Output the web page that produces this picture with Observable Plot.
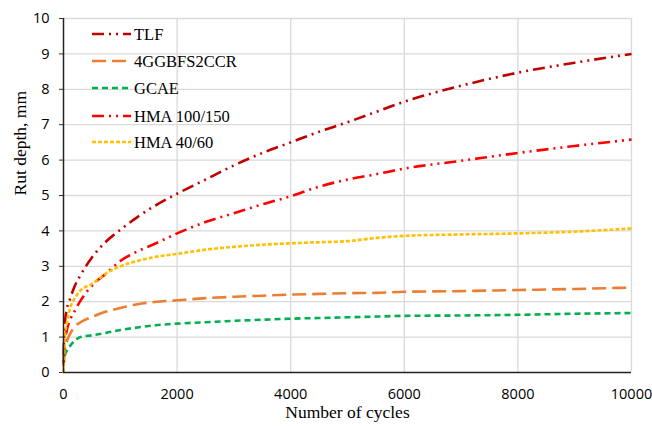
<!DOCTYPE html>
<html><head><meta charset="utf-8">
<script src="https://cdn.jsdelivr.net/npm/d3@7"></script>
<script src="https://cdn.jsdelivr.net/npm/@observablehq/plot@0.6"></script>
<style>
body{margin:0;background:#fff}
#chart{position:relative;width:652px;height:426px}
#legend{position:absolute;left:0;top:0;pointer-events:none}
</style>
</head><body><div id="chart"></div>
<script>
const cycles = [0, 20, 60, 120, 200, 300, 500, 750, 1000, 1300, 1600, 2000, 2500, 3000, 3500, 4000, 4500, 5000, 5500, 6000, 7000, 8000, 9000, 10000];
const tlf     = [0.5, 1.3, 1.8, 2.1, 2.45, 2.75, 3.25, 3.7, 4.03, 4.39, 4.7, 5.05, 5.45, 5.85, 6.2, 6.5, 6.8, 7.07, 7.36, 7.65, 8.1, 8.47, 8.75, 9.0];
const ggbfs   = [0.3, 0.6, 0.88, 1.1, 1.3, 1.42, 1.57, 1.72, 1.82, 1.93, 1.99, 2.04, 2.1, 2.14, 2.17, 2.2, 2.22, 2.24, 2.25, 2.28, 2.3, 2.33, 2.36, 2.4];
const gcae    = [0.2, 0.45, 0.62, 0.76, 0.9, 1.0, 1.05, 1.12, 1.2, 1.27, 1.33, 1.38, 1.42, 1.46, 1.49, 1.52, 1.54, 1.56, 1.58, 1.6, 1.61, 1.63, 1.66, 1.68];
const hma100  = [0.2, 0.8, 1.2, 1.5, 1.75, 2.03, 2.45, 2.8, 3.15, 3.42, 3.63, 3.93, 4.25, 4.5, 4.75, 4.98, 5.25, 5.45, 5.6, 5.76, 5.98, 6.2, 6.4, 6.58];
const hma40   = [0, 0.9, 1.4, 1.84, 2.1, 2.32, 2.5, 2.8, 3.0, 3.15, 3.26, 3.35, 3.47, 3.55, 3.61, 3.65, 3.68, 3.71, 3.8, 3.86, 3.9, 3.93, 3.98, 4.07];

const seriesNames  = ["TLF", "4GGBFS2CCR", "GCAE", "HMA 100/150", "HMA 40/60"];
const seriesValues = [tlf, ggbfs, gcae, hma100, hma40];
const seriesColors = ["#C00000", "#ED7D31", "#00B050", "#FF0000", "#FFC000"];
const seriesDash   = ["12,5,2,5,2,5", "14,6", "6,4", "12,5,2,5,2,5", "4,2"];
const xTicks = [0, 2000, 4000, 6000, 8000, 10000];
const yTicks = [0, 1, 2, 3, 4, 5, 6, 7, 8, 9, 10];

const rows = seriesNames.map((name, i) => cycles.map((c, j) => ({cycles: c, depth: seriesValues[i][j], series: name})));

const tickFont = "Open Sans, Noto Sans, sans-serif";
const serif = "Liberation Serif, Times New Roman, serif";

const plot = Plot.plot({
  width: 652, height: 426,
  marginLeft: 63, marginRight: 21, marginTop: 18, marginBottom: 54,
  style: {background: "#fff", color: "#000"},
  x: {domain: [0, 10000]},
  y: {domain: [0, 10]},
  marks: [
    Plot.gridX(xTicks.slice(1), {stroke: "#d9d9d9", strokeOpacity: 1, strokeWidth: 1.3}),
    Plot.gridY(yTicks.slice(1), {stroke: "#d9d9d9", strokeOpacity: 1, strokeWidth: 1.3}),
    Plot.axisY(yTicks, {tickSize: 4, tickPadding: 10, fontSize: 14.5, fontFamily: tickFont, label: null, stroke: "#333", tickFormat: "d"}),
    Plot.axisX(xTicks, {tickSize: 0, tickPadding: 16, fontSize: 14.5, fontFamily: tickFont, label: null, tickFormat: "d"}),
    ...rows.map((r, i) => Plot.line(r, {
      x: "cycles", y: "depth", stroke: seriesColors[i], strokeWidth: 2.6,
      strokeDasharray: seriesDash[i], curve: "monotone-x", strokeLinecap: "butt"
    })),
    Plot.ruleY([0], {stroke: "#222", strokeWidth: 1.5}),
    Plot.ruleX([0], {stroke: "#222", strokeWidth: 1.5}),
    Plot.text(["Rut depth, mm"], {frameAnchor: "left", rotate: -90, dx: -43, fontFamily: serif, fontSize: 17.5}),
    Plot.text(["Number of cycles"], {frameAnchor: "bottom", dy: 45, fontFamily: serif, fontSize: 17.5})
  ]
});

const chart = document.getElementById("chart");
chart.appendChild(plot);

// legend overlay
const legend = d3.select(chart).append("svg").attr("id", "legend").attr("width", 652).attr("height", 426);
const rowY = [34, 61, 88, 116, 142];
seriesNames.forEach((name, i) => {
  const g = legend.append("g").attr("transform", `translate(0,${rowY[i]})`);
  g.append("line").attr("x1", 92).attr("x2", 131).attr("y1", 0).attr("y2", 0)
    .attr("stroke", seriesColors[i]).attr("stroke-width", 2.6).attr("stroke-dasharray", seriesDash[i]);
  g.append("text").attr("x", 134).attr("y", 0).attr("dy", "0.35em")
    .attr("font-family", serif).attr("font-size", 16.5).text(name);
});
</script>
</body></html>
